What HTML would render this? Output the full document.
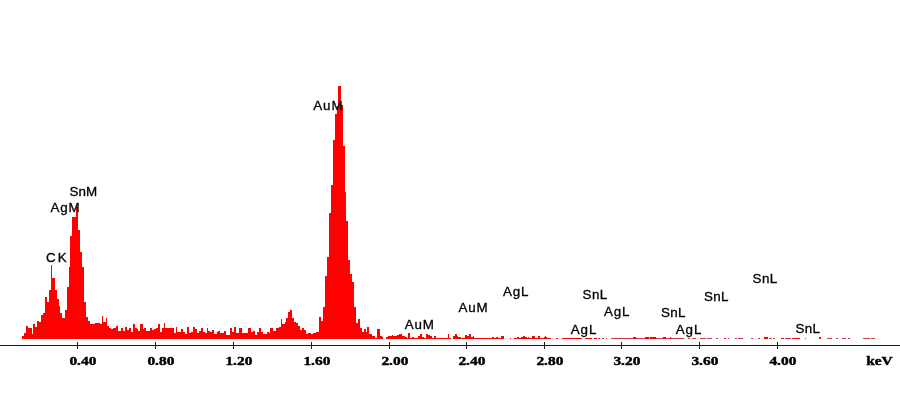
<!DOCTYPE html>
<html lang="en">
<head>
<meta charset="utf-8">
<title>EDS spectrum</title>
<style>
html,body{margin:0;padding:0;background:#fff;}
body{width:900px;height:415px;overflow:hidden;position:relative;}
svg{position:absolute;left:0;top:0;display:block;}
.pk{font-family:"Liberation Sans",Arial,sans-serif;font-size:13.4px;fill:#000;stroke:#000;stroke-width:0.3px;letter-spacing:0.85px;}
.ax{font-family:"Liberation Serif","Times New Roman",serif;font-weight:bold;font-size:13.4px;fill:#000;stroke:#000;stroke-width:0.45px;}
</style>
</head>
<body>
<svg width="900" height="415" viewBox="0 0 900 415">
<rect x="0" y="0" width="900" height="415" fill="#ffffff"/>
<path shape-rendering="crispEdges" fill="#c83848" d="M595 338h2v1h-2zM598 338h2v1h-2zM602 338h2v1h-2zM606 338h1v1h-1zM611 338h73v1h-73zM688 338h2v1h-2zM692 338h4v1h-4zM700 338h6v1h-6zM707 338h2v1h-2zM709 338h3v1h-3zM716 338h2v1h-2zM728 338h1v1h-1zM735 338h2v1h-2zM738 338h5v1h-5zM751 338h2v1h-2zM758 338h2v1h-2zM769 338h3v1h-3zM773 338h2v1h-2zM785 338h6v1h-6zM792 338h8v1h-8zM805 338h1v1h-1zM827 338h5v1h-5zM836 338h2v1h-2zM842 338h4v1h-4zM848 338h2v1h-2zM863 338h7v1h-7zM871 338h4v1h-4z"/>
<path shape-rendering="crispEdges" fill="#ff0000" d="M22 339V336H24V333H26V326H28V328H32V334H33V324H35V327H37V321H39V322H41V315H43V313H45V297H47V302H49V290H51V265H52V278H55V290H57V299H59V306H60V313H62V318H65V310H67V287H69V267H70V236H72V217H76V207H78V230H80V252H82V267H84V302H86V317H88V321H90V324H95V323H100V324H102V316H103V322H106V318H107V326H109V328H111V329H113V328H116V326H118V331H121V328H123V331H125V327H127V330H129V328H131V332H133V324H135V328H137V329H138V331H140V324H143V329H144V328H146V331H150V328H152V330H154V329H156V328H158V324H160V332H162V328H164V323H165V328H174V333H176V327H177V332H181V329H183V332H185V334H187V327H189V333H191V332H193V327H195V329H197V333H199V331H201V328H203V332H205V333H207V328H208V331H210V332H212V330H214V334H217V332H218V331H220V333H224V331H226V335H230V328H232V332H234V327H236V333H239V328H242V333H248V328H251V332H253V331H255V335H257V332H259V328H261V332H263V334H267V332H269V333H270V328H273V331H276V328H279V327H281V319H282V324H285V322H286V318H288V312H290V310H292V318H294V322H296V323H298V326H300V330H302V328H304V330H306V334H308V333H311V334H313V333H316V332H319V317H321V321H323V307H325V276H327V257H329V213H331V185H333V140H335V114H337V106H338V86H341V105H343V146H345V192H346V221H348V260H350V274H352V282H354V307H356V323H358V319H360V328H362V332H364V329H366V332H367V327H369V334H372V336H375V338H377V329H380V336H382V337H383V339zM386 339V337H388V336H392V335H393V336H397V335H399V334H402V336H405V337H407V338H408V333H410V338H412V337H414V338H418V336H420V334H422V337H424V338H426V334H428V335H430V336H432V338H434V336H436V338H448V334H449V338H451V339zM453 339V336H455V334H457V336H458V337H461V338H465V335H467V336H469V334H471V337H473V336H474V338H492V337H494V338H496V337H498V338H501V336H504V339zM510 339V338H511V339zM514 339V338H517V337H519V338H521V337H523V336H525V337H527V338H528V337H529V338H532V336H535V338H538V336H540V338H544V337H545V336H546V337H547V338H551V339zM556 339V338H558V339zM562 339V338H582V339zM585 339V338H592V339zM594 339V338H597V339zM633 339V337H636V339zM645 339V337H649V339zM650 339V337H656V339zM663 339V337H666V339zM670 339V337H671V339zM724 339V338H726V339zM764 339V337H768V339zM781 339V338H784V339zM794 339V338H800V339zM819 339V337H821V339z"/>
<path shape-rendering="crispEdges" fill="#b02030" d="M51 265h1v14h-1z"/>
<rect shape-rendering="crispEdges" x="0" y="345" width="900" height="1" fill="#1a1a1a"/>
<path shape-rendering="crispEdges" fill="#1a1a1a" d="M77 342h1v7h-1zM155 342h1v7h-1zM233 342h1v7h-1zM311 342h1v7h-1zM389 342h1v7h-1zM466 342h1v7h-1zM544 342h1v7h-1zM621 342h1v7h-1zM699 342h1v7h-1zM777 342h1v7h-1z"/>
<text class="pk" x="69.4" y="195.5" style="letter-spacing:0.1px">SnM</text>
<text class="pk" x="50.5" y="212.3">AgM</text>
<text class="pk" x="45.9" y="261.7" style="word-spacing:-3.2px">C K</text>
<text class="pk" x="313.3" y="109.7">AuM</text>
<text class="pk" x="404.7" y="328.8">AuM</text>
<text class="pk" x="458.5" y="312">AuM</text>
<text class="pk" x="503" y="295.5">AgL</text>
<text class="pk" x="582.6" y="299.3" style="letter-spacing:0.4px">SnL</text>
<text class="pk" x="570.8" y="333.8">AgL</text>
<text class="pk" x="604" y="316.3">AgL</text>
<text class="pk" x="660.9" y="317" style="letter-spacing:0.4px">SnL</text>
<text class="pk" x="675.8" y="334.3">AgL</text>
<text class="pk" x="703.9" y="300.5" style="letter-spacing:0.4px">SnL</text>
<text class="pk" x="752.6" y="283.3" style="letter-spacing:0.4px">SnL</text>
<text class="pk" x="795.4" y="333" style="letter-spacing:0.4px">SnL</text>
<text class="ax" transform="translate(69.4,365.3) scale(1.15,1)">0.40</text>
<text class="ax" transform="translate(147.4,365.3) scale(1.15,1)">0.80</text>
<text class="ax" transform="translate(225.4,365.3) scale(1.15,1)">1.20</text>
<text class="ax" transform="translate(303.4,365.3) scale(1.15,1)">1.60</text>
<text class="ax" transform="translate(381.4,365.3) scale(1.15,1)">2.00</text>
<text class="ax" transform="translate(458.4,365.3) scale(1.15,1)">2.40</text>
<text class="ax" transform="translate(536.4,365.3) scale(1.15,1)">2.80</text>
<text class="ax" transform="translate(613.4,365.3) scale(1.15,1)">3.20</text>
<text class="ax" transform="translate(691.4,365.3) scale(1.15,1)">3.60</text>
<text class="ax" transform="translate(769.4,365.3) scale(1.15,1)">4.00</text>
<text class="ax" transform="translate(866.2,365.3) scale(1.15,1)">keV</text>
</svg>
</body>
</html>
